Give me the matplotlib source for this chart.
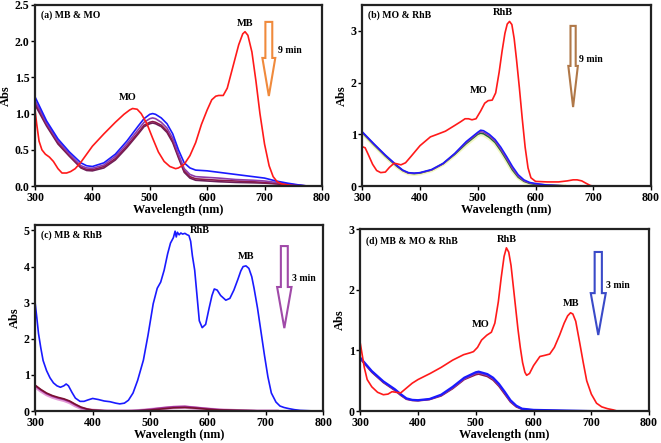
import matplotlib.pyplot as plt
import matplotlib.patches as mpatches

plt.rcParams['font.family'] = ['Liberation Serif', 'DejaVu Serif']
plt.rcParams['font.weight'] = 'bold'

# ---------------- (a) MB & MO ----------------
wl_a_red = [300, 303, 307, 312, 318, 325, 332, 340, 347, 355, 362, 370, 380, 390, 400, 420, 440, 455,
            465, 470, 478, 485, 495, 505, 515, 525, 535, 545, 550, 560, 570, 580, 590, 600, 608, 615,
            620, 628, 635, 645, 655, 662, 666, 671, 678, 685, 692, 700, 708, 715, 722, 730, 745, 770, 800]
abs_a_red = [1.05, 0.85, 0.62, 0.5, 0.44, 0.4, 0.34, 0.24, 0.18, 0.18, 0.2, 0.24, 0.33, 0.44, 0.55, 0.72,
             0.88, 0.99, 1.05, 1.07, 1.06, 1.0, 0.86, 0.66, 0.47, 0.34, 0.27, 0.24, 0.25, 0.3, 0.42, 0.6,
             0.85, 1.05, 1.19, 1.24, 1.25, 1.25, 1.35, 1.65, 1.95, 2.1, 2.13, 2.08, 1.85, 1.45, 1.0, 0.58,
             0.28, 0.13, 0.06, 0.03, 0.01, 0.0, 0.0]

wl_a = [300, 320, 340, 360, 380, 390, 400, 420, 440, 460, 480, 490, 500, 505, 510, 520, 530, 540, 550,
        560, 570, 580, 600, 620, 650, 680, 700, 720, 740, 760, 770]
abs_a_0 = [1.23, 0.9, 0.65, 0.47, 0.32, 0.28, 0.27, 0.32, 0.44, 0.62, 0.83, 0.93, 0.99, 1.0, 0.99, 0.94,
           0.86, 0.72, 0.5, 0.32, 0.25, 0.22, 0.21, 0.19, 0.16, 0.13, 0.11, 0.07, 0.04, 0.015, 0.005]
abs_a_1 = [1.18, 0.87, 0.62, 0.44, 0.28, 0.25, 0.245, 0.29, 0.41, 0.58, 0.78, 0.88, 0.93, 0.94, 0.93,
           0.88, 0.8, 0.66, 0.44, 0.24, 0.16, 0.13, 0.12, 0.11, 0.09, 0.08, 0.07, 0.05, 0.03, 0.01, 0.005]
abs_a_2 = [1.15, 0.85, 0.6, 0.42, 0.26, 0.23, 0.225, 0.27, 0.38, 0.55, 0.74, 0.84, 0.88, 0.89, 0.88,
           0.84, 0.76, 0.62, 0.41, 0.21, 0.13, 0.1, 0.09, 0.08, 0.07, 0.06, 0.05, 0.035, 0.02, 0.008, 0.003]
abs_a_3 = [1.12, 0.83, 0.58, 0.41, 0.25, 0.215, 0.21, 0.25, 0.36, 0.53, 0.72, 0.82, 0.86, 0.87, 0.86,
           0.82, 0.74, 0.6, 0.39, 0.19, 0.11, 0.08, 0.07, 0.06, 0.05, 0.045, 0.04, 0.03, 0.015, 0.006, 0.002]

# ---------------- (b) MO & RhB ----------------
wl_b_red = [300, 305, 310, 318, 325, 332, 340, 347, 355, 360, 367, 375, 385, 400, 418, 430, 444, 460,
            470, 478, 484, 490, 497, 505, 512, 518, 525, 531, 537, 542, 547, 551, 555, 559, 563, 567,
            572, 577, 582, 587, 592, 600, 620, 640, 655, 665, 672, 680, 688, 695, 700]
abs_b_red = [0.76, 0.74, 0.62, 0.42, 0.3, 0.26, 0.27, 0.36, 0.44, 0.43, 0.41, 0.45, 0.58, 0.78, 0.95,
             1.0, 1.06, 1.17, 1.24, 1.3, 1.3, 1.28, 1.3, 1.45, 1.6, 1.65, 1.66, 1.8, 2.2, 2.6, 2.95,
             3.13, 3.18, 3.12, 2.85, 2.45, 1.9, 1.3, 0.75, 0.35, 0.16, 0.09, 0.08, 0.08, 0.1, 0.12,
             0.12, 0.1, 0.05, 0.01, 0.0]

wl_b = [300, 320, 340, 350, 360, 370, 380, 390, 400, 420, 440, 460, 480, 500, 505, 510, 520, 530, 540,
        550, 560, 570, 580, 590, 600, 620, 650]
abs_b_0 = [1.05, 0.82, 0.6, 0.5, 0.4, 0.31, 0.26, 0.25, 0.26, 0.32, 0.44, 0.63, 0.86, 1.04, 1.08, 1.07,
           1.0, 0.9, 0.75, 0.57, 0.38, 0.22, 0.12, 0.07, 0.05, 0.02, 0.005]
abs_b_1 = [1.04, 0.81, 0.59, 0.49, 0.39, 0.3, 0.25, 0.245, 0.255, 0.31, 0.43, 0.62, 0.84, 1.02, 1.05,
           1.04, 0.97, 0.87, 0.71, 0.53, 0.34, 0.19, 0.1, 0.06, 0.04, 0.02, 0.005]
abs_b_2 = [1.03, 0.8, 0.58, 0.48, 0.38, 0.3, 0.25, 0.24, 0.25, 0.31, 0.43, 0.61, 0.82, 1.0, 1.02, 1.01,
           0.94, 0.84, 0.68, 0.5, 0.31, 0.17, 0.09, 0.05, 0.03, 0.015, 0.003]
abs_b_3 = [1.02, 0.79, 0.57, 0.47, 0.37, 0.29, 0.24, 0.23, 0.24, 0.3, 0.42, 0.6, 0.8, 0.98, 1.0, 0.99,
           0.92, 0.82, 0.66, 0.48, 0.29, 0.16, 0.08, 0.04, 0.02, 0.01, 0.002]

# ---------------- (c) MB & RhB ----------------
wl_c_blue = [300, 303, 306, 310, 314, 320, 326, 332, 338, 344, 350, 354, 358, 364, 370, 378, 385, 392,
             400, 410, 420, 430, 440, 447, 455, 462, 470, 478, 488, 496, 505, 512, 518, 524, 530, 535,
             540, 543, 545, 547, 550, 553, 556, 560, 564, 567, 570, 573, 577, 581, 585, 590, 596, 602,
             607, 611, 616, 622, 631, 638, 645, 652, 657, 661, 666, 671, 676, 680, 686, 692, 698, 704,
             710, 718, 725, 732, 740, 750, 760, 775, 790]
abs_c_blue = [3.02, 2.6, 2.15, 1.75, 1.4, 1.12, 0.92, 0.78, 0.7, 0.66, 0.7, 0.75, 0.7, 0.52, 0.36, 0.27,
              0.27, 0.31, 0.35, 0.32, 0.28, 0.26, 0.22, 0.2, 0.22, 0.3, 0.5, 0.85, 1.41, 2.1, 2.97, 3.4,
              3.57, 3.9, 4.35, 4.65, 4.8, 4.98, 4.82, 4.95, 4.88, 4.93, 4.9, 4.92, 4.88, 4.86, 4.7, 4.3,
              3.9, 3.2, 2.5, 2.31, 2.4, 2.85, 3.2, 3.38, 3.35, 3.2, 3.07, 3.12, 3.35, 3.65, 3.88, 4.0, 4.02,
              3.95, 3.72, 3.4, 2.85, 2.2, 1.55, 0.95, 0.5, 0.25, 0.14, 0.1, 0.07, 0.04, 0.02, 0.01, 0.0]

wl_c = [300, 310, 320, 330, 340, 350, 360, 370, 380, 390, 400, 420, 440, 460, 480, 500, 520, 540, 560,
        580, 600, 620, 650, 680, 700, 720]
abs_c_1 = [0.72, 0.6, 0.5, 0.43, 0.38, 0.34, 0.28, 0.19, 0.11, 0.06, 0.03, 0.01, 0.0, 0.0, 0.01, 0.03,
           0.06, 0.09, 0.1, 0.08, 0.05, 0.03, 0.02, 0.01, 0.0, 0.0]
abs_c_2 = [0.7, 0.58, 0.48, 0.41, 0.36, 0.32, 0.26, 0.17, 0.09, 0.05, 0.02, 0.01, 0.0, 0.0, 0.02, 0.05,
           0.09, 0.12, 0.13, 0.1, 0.07, 0.04, 0.02, 0.01, 0.0, 0.0]
abs_c_3 = [0.68, 0.56, 0.46, 0.39, 0.34, 0.3, 0.24, 0.15, 0.08, 0.04, 0.02, 0.0, 0.0, 0.0, 0.01, 0.04,
           0.07, 0.1, 0.11, 0.08, 0.05, 0.03, 0.01, 0.0, 0.0, 0.0]
wl_c_base = [300, 400, 500, 600, 700, 800]
abs_c_base = [0.0, 0.0, 0.0, 0.0, 0.0, 0.0]

# ---------------- (d) MB & MO & RhB ----------------
wl_d_red = [300, 303, 307, 312, 320, 330, 340, 348, 355, 362, 370, 380, 390, 400, 421, 440, 460, 479,
            490, 496, 503, 510, 519, 527, 533, 539, 544, 549, 553, 557, 561, 565, 569, 573, 577, 581,
            585, 588, 593, 600, 611, 620, 628, 636, 645, 653, 659, 664, 668, 673, 680, 686, 692, 700,
            709, 718, 728, 738, 745]
abs_d_red = [1.12, 0.95, 0.72, 0.52, 0.4, 0.31, 0.27, 0.28, 0.32, 0.31, 0.3, 0.38, 0.46, 0.52, 0.62,
             0.72, 0.84, 0.93, 0.96, 0.98, 1.05, 1.17, 1.25, 1.3, 1.45, 1.8, 2.2, 2.55, 2.69, 2.62, 2.4,
             2.05, 1.7, 1.35, 1.05, 0.8, 0.64, 0.59, 0.62, 0.75, 0.9, 0.92, 0.94, 1.05, 1.25, 1.45, 1.57,
             1.62, 1.6, 1.48, 1.12, 0.8, 0.5, 0.28, 0.13, 0.07, 0.04, 0.02, 0.0]

wl_d = [300, 320, 340, 360, 370, 380, 390, 400, 420, 440, 460, 480, 500, 505, 520, 530, 540, 550, 560,
        570, 580, 600, 650, 700, 800]
abs_d_0 = [0.88, 0.66, 0.49, 0.36, 0.28, 0.21, 0.185, 0.18, 0.2, 0.27, 0.4, 0.55, 0.64, 0.65, 0.61, 0.55,
           0.45, 0.32, 0.18, 0.09, 0.04, 0.02, 0.01, 0.0, 0.0]
abs_d_1 = [0.87, 0.65, 0.48, 0.35, 0.27, 0.2, 0.18, 0.175, 0.195, 0.26, 0.38, 0.53, 0.62, 0.63, 0.59,
           0.53, 0.43, 0.3, 0.16, 0.08, 0.035, 0.015, 0.005, 0.0, 0.0]
abs_d_2 = [0.86, 0.64, 0.47, 0.34, 0.26, 0.195, 0.175, 0.17, 0.19, 0.25, 0.37, 0.52, 0.6, 0.61, 0.57,
           0.51, 0.41, 0.28, 0.15, 0.07, 0.03, 0.01, 0.0, 0.0, 0.0]

fig = plt.figure(figsize=(6.61, 4.43), dpi=100)
ax_a = fig.add_axes([0.053, 0.580, 0.434, 0.409])
ax_b = fig.add_axes([0.548, 0.580, 0.437, 0.409])
ax_c = fig.add_axes([0.053, 0.072, 0.436, 0.420])
ax_d = fig.add_axes([0.545, 0.072, 0.437, 0.411])


def style(ax, ylim, yticks, yfmt):
    ax.set_xlim(300, 800)
    ax.set_ylim(*ylim)
    ax.set_xticks([300, 400, 500, 600, 700, 800])
    ax.set_yticks(yticks)
    ax.set_yticklabels([yfmt.format(v) for v in yticks])
    ax.tick_params(direction='out', length=3, width=1, labelsize=8.6, pad=1)
    for s in ax.spines.values():
        s.set_linewidth(1.6)
        s.set_color('#222222')
    ax.set_xlabel('Wavelength (nm)', fontsize=8.8, fontweight='bold', labelpad=0)
    ax.set_ylabel('Abs', fontsize=9, fontweight='bold', labelpad=2)


def arrow(ax, x, ytop, ytip, sw, hw, hl, color, label, lx, ly):
    ax.add_patch(mpatches.FancyArrow(x, ytop, 0, ytip - ytop, width=sw, head_width=hw, head_length=hl,
                                     length_includes_head=True, transform=ax.transAxes,
                                     facecolor='white', edgecolor=color, linewidth=1.5, zorder=5))
    ax.text(lx, ly, label, transform=ax.transAxes, fontsize=7, fontweight='bold', va='center')


# (a)
ax_a.plot(wl_a, abs_a_3, color='#6a1f5a', lw=1.2)
ax_a.plot(wl_a, abs_a_2, color='#8b1a4a', lw=1.2)
ax_a.plot(wl_a, abs_a_1, color='#8e3aa8', lw=1.2)
ax_a.plot(wl_a, abs_a_0, color='#1a1aff', lw=1.2)
ax_a.plot(wl_a_red, abs_a_red, color='#ff1a1a', lw=1.2)
style(ax_a, (0, 2.5), [0.0, 0.5, 1.0, 1.5, 2.0, 2.5], '{:.1f}')
ax_a.text(0.02, 0.945, '(a) MB & MO', transform=ax_a.transAxes, fontsize=7, fontweight='bold', va='center')
ax_a.text(462, 1.19, 'MO', fontsize=7.5, fontweight='bold', ha='center')
ax_a.text(667, 2.21, 'MB', fontsize=7.5, fontweight='bold', ha='center')
arrow(ax_a, 0.815, 0.906, 0.497, 0.024, 0.045, 0.21, '#f08a3c', '9 min', 0.847, 0.75)

# (b)
ax_b.plot(wl_b, abs_b_3, color='#f2f6c0', lw=2.6)
ax_b.plot(wl_b, abs_b_2, color='#1f6a3a', lw=1.1)
ax_b.plot(wl_b, abs_b_1, color='#8e3aa8', lw=1.1)
ax_b.plot(wl_b, abs_b_0, color='#1a1aff', lw=1.1)
ax_b.plot(wl_b_red, abs_b_red, color='#ff1a1a', lw=1.2)
style(ax_b, (0, 3.5), [0, 1, 2, 3], '{:d}')
ax_b.text(0.02, 0.945, '(b) MO & RhB', transform=ax_b.transAxes, fontsize=7, fontweight='bold', va='center')
ax_b.text(544, 3.3, 'RhB', fontsize=7.5, fontweight='bold', ha='center')
ax_b.text(502, 1.8, 'MO', fontsize=7.5, fontweight='bold', ha='center')
arrow(ax_b, 0.73, 0.884, 0.436, 0.018, 0.033, 0.227, '#b07848', '9 min', 0.75, 0.70)

# (c)
ax_c.plot(wl_c_base, abs_c_base, color='#1a1aff', lw=1.2, ls=':')
ax_c.plot(wl_c, abs_c_3, color='#e39ad6', lw=2.5)
ax_c.plot(wl_c, abs_c_2, color='#a0309a', lw=1.2)
ax_c.plot(wl_c, abs_c_1, color='#7a1030', lw=1.2)
ax_c.plot(wl_c_blue, abs_c_blue, color='#1a1aff', lw=1.2)
style(ax_c, (0, 5.15), [0, 1, 2, 3, 4, 5], '{:d}')
ax_c.text(0.02, 0.945, '(c) MB & RhB', transform=ax_c.transAxes, fontsize=7, fontweight='bold', va='center')
ax_c.text(569, 4.93, 'RhB', fontsize=7.5, fontweight='bold', ha='left')
ax_c.text(666, 4.2, 'MB', fontsize=7.5, fontweight='bold', ha='center')
arrow(ax_c, 0.865, 0.887, 0.446, 0.024, 0.05, 0.221, '#a04aa8', '3 min', 0.89, 0.715)

# (d)
ax_d.plot(wl_d, abs_d_2, color='#8b1a4a', lw=1.2)
ax_d.plot(wl_d, abs_d_1, color='#8e3aa8', lw=1.2)
ax_d.plot(wl_d, abs_d_0, color='#1a1aff', lw=1.6)
ax_d.plot(wl_d_red, abs_d_red, color='#ff1a1a', lw=1.2)
style(ax_d, (0, 3.0), [0, 1, 2, 3], '{:d}')
ax_d.text(0.02, 0.935, '(d) MB & MO & RhB', transform=ax_d.transAxes, fontsize=7, fontweight='bold', va='center')
ax_d.text(554, 2.79, 'RhB', fontsize=7.5, fontweight='bold', ha='center')
ax_d.text(508, 1.38, 'MO', fontsize=7.5, fontweight='bold', ha='center')
ax_d.text(665, 1.73, 'MB', fontsize=7.5, fontweight='bold', ha='center')
arrow(ax_d, 0.824, 0.874, 0.418, 0.025, 0.052, 0.23, '#3a4ac8', '3 min', 0.85, 0.69)

fig.savefig('out.png', dpi=100)
